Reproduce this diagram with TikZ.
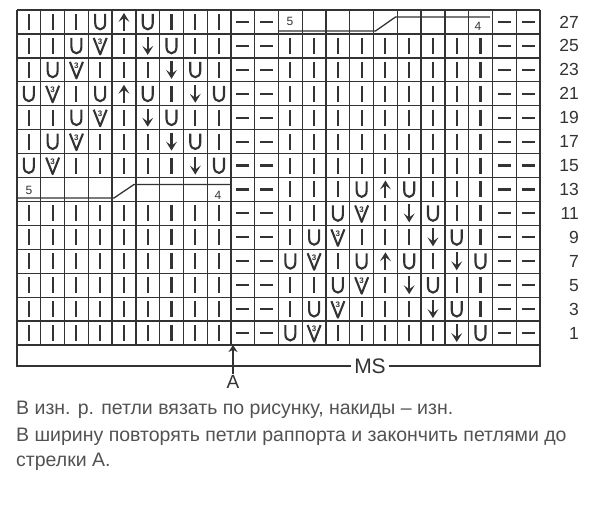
\documentclass[tikz,border=0pt]{standalone}
\usepackage{fontspec}
\setmainfont{Liberation Sans}
\usetikzlibrary{arrows.meta}
\definecolor{ink}{HTML}{333333}
\tikzset{
  gridline/.style={ink, line width=1.3pt},
  boxline/.style={ink, line width=1.3pt},
  sym/.style={ink, line width=2.1pt},
  boxnum/.style={text=ink, inner sep=0pt, font=\fontsize{12}{12}\selectfont},
  rownum/.style={text=ink, inner sep=0pt, font=\fontsize{17.5}{17.5}\selectfont},
  note/.style={text=ink!85, inner sep=0pt, font=\fontsize{19.5}{19.5}\selectfont},
  pics/knit/.style={code={\draw[sym] (0,-8) -- (0,8);}},
  pics/purl/.style={code={\draw[sym] (-6.5,0) -- (6.5,0);}},
  pics/yo/.style={code={\draw[sym] (-5,-8) -- (-5,1) .. controls (-5,9.5) and (5,9.5) .. (5,1) -- (5,-8);}},
  pics/dnarr/.style={code={\draw[sym] (0,-9) -- (0,5);
      \fill[ink] (-5.5,0) -- (0,9) -- (5.5,0) -- (0,4) -- cycle;}},
  pics/uparr/.style={code={\draw[sym] (0,9) -- (0,-5);
      \fill[ink] (-5.5,0) -- (0,-9) -- (5.5,0) -- (0,-4) -- cycle;}},
  pics/tri/.style={code={\draw[sym, line join=round] (-6.5,-8) -- (0,8.5) -- (6.5,-8);
      \node[text=ink, inner sep=0pt, font=\fontsize{8}{8}\selectfont\bfseries] at (0,-4) {3};}}
}
\begin{document}
\begin{tikzpicture}[x=1pt,y=-1pt]
  \useasboundingbox (0,0) rectangle (600,506);

  % grid
  \foreach \c in {0,...,22}
    \draw[gridline] ({17+\c*23.77},10) -- ({17+\c*23.77},345);
  \foreach \r in {0,...,14}
    \draw[gridline] (17,{10+\r*23.93}) -- (540,{10+\r*23.93});

  % purl columns
  \foreach \r in {0,...,13}
    \foreach \c in {9,10,20,21}
      \pic at ({17+(\c+0.5)*23.77},{10+(\r+0.5)*23.93}) {purl};

  % plain knit
  \foreach \r in {8,...,13}
    \foreach \c in {0,...,8}
      \pic at ({17+(\c+0.5)*23.77},{10+(\r+0.5)*23.93}) {knit};
  \foreach \r in {1,...,6}
    \foreach \c in {11,...,19}
      \pic at ({17+(\c+0.5)*23.77},{10+(\r+0.5)*23.93}) {knit};

  % pattern, left and right
  \foreach \row [count=\r from 0] in {
      {knit,knit,knit,yo,uparr,yo,knit,knit,knit},
      {knit,knit,yo,tri,knit,dnarr,yo,knit,knit},
      {knit,yo,tri,knit,knit,knit,dnarr,yo,knit},
      {yo,tri,knit,yo,uparr,yo,knit,dnarr,yo},
      {knit,knit,yo,tri,knit,dnarr,yo,knit,knit},
      {knit,yo,tri,knit,knit,knit,dnarr,yo,knit},
      {yo,tri,knit,knit,knit,knit,knit,dnarr,yo}}
    \foreach \s [count=\c from 0] in \row {
      \pic at ({17+(\c+0.5)*23.77},{10+(\r+0.5)*23.93}) {\s};
      \pic at ({17+(\c+11.5)*23.77},{10+(\r+7.5)*23.93}) {\s};
    }

  % boxes 5 - 4
  \draw[boxline] (17,198) -- (114,198) -- (134,184.5) -- (230,184.5);
  \node[boxnum] (fiveL) at (29,190) {5};
  \node[boxnum] (fourL) at (218,195) {4};
  \draw[boxline] (278.5,31) -- (375.5,31) -- (395.5,17) -- (490,17);
  \node[boxnum] (fiveR) at (290,21.5) {5};
  \node[boxnum] (fourR) at (478,26.5) {4};

  % row numbers
  \foreach \n [count=\r from 0] in {27,25,...,1}
    \node[rownum, anchor=east] (row\n) at (579,{10+(\r+0.5)*23.93}) {\n};

  % MS band
  \node[text=ink, inner sep=3pt, font=\fontsize{21}{21}\selectfont] (ms) at (370,366) {MS};
  \draw[gridline] (ms.west) -- (17,366) -- (17,345);
  \draw[gridline] (ms.east) -- (540,366) -- (540,345);

  % arrow A
  \node[text=ink, inner sep=1pt, font=\fontsize{19}{19}\selectfont] (a) at (233,382) {A};
  \coordinate (atip) at (233,345);
  \draw[ink, line width=1.8pt, -{Stealth[length=7pt,width=9pt]}] (a.north) -- (atip);

  % notes
  \node[note, anchor=west] (line1) at (16,410) {В изн. р. петли вязать по рисунку, накиды – изн.};
  \node[note, anchor=west] (line2) at (16,437) {В ширину повторять петли раппорта и закончить петлями до};
  \node[note, anchor=west] (line3) at (16,462) {стрелки А.};
\end{tikzpicture}
\end{document}
